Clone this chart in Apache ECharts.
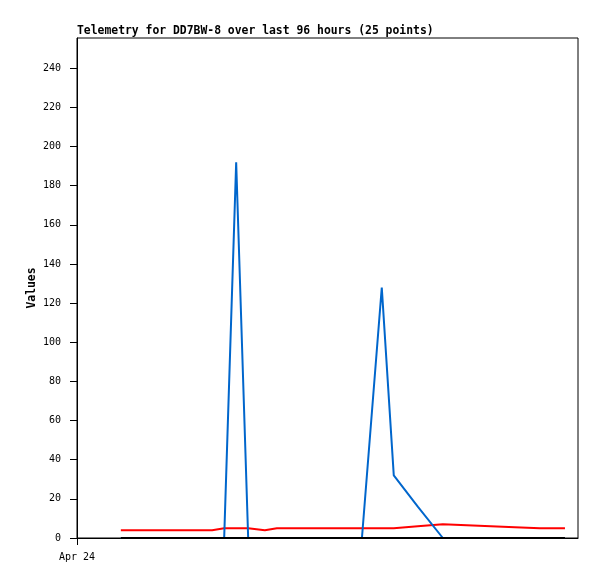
<!DOCTYPE html>
<html>
<head>
<meta charset="utf-8">
<script src="https://cdn.jsdelivr.net/npm/echarts@6/dist/echarts.min.js"></script>
<style>html,body{margin:0;padding:0;background:#fff}#c{width:597px;height:579px}</style>
</head>
<body>
<div id="c"></div>
<script>
const titleText = 'Telemetry for DD7BW-8 over last 96 hours (25 points)';
const yTicks = [0, 20, 40, 60, 80, 100, 120, 140, 160, 180, 200, 220, 240];
const xLabel = 'Apr 24';
// hours since start of window
const hours = [8.4, 11.5, 14.6, 17.6, 20.7, 22.8, 25.9, 28.2, 30.5, 32.8, 36.0, 38.3, 42.4, 46.4, 50.4, 54.6, 58.4, 60.7, 65.3, 70.1, 74.7, 79.3, 83.9, 88.7, 93.5];
const redVals = [4, 4, 4, 4, 4, 4, 4, 5, 5, 5, 4, 5, 5, 5, 5, 5, 5, 5, 6, 7, 6.5, 6, 5.5, 5, 5];
const blueVals = [0, 0, 0, 0, 0, 0, 0, 0, 192, 0, 0, 0, 0, 0, 0, 0, 128, 32, 16, 0, 0, 0, 0, 0, 0];
const blackVals = [0, 0, 0, 0, 0, 0, 0, 0, 0, 0, 0, 0, 0, 0, 0, 0, 0, 0, 0, 0, 0, 0, 0, 0, 0];

const pair = vals => hours.map((h, i) => [h, vals[i]]);
const chart = echarts.init(document.getElementById('c'));
const mono = 'DejaVu Sans Mono, Liberation Mono, monospace';
chart.setOption({
  animation: false,
  title: {
    text: titleText, left: 72, top: 21,
    textStyle: {fontFamily: mono, fontSize: 11.4, fontWeight: 'bold', color: '#000'}
  },
  grid: {left: 77, right: 19, top: 38, bottom: 41, show: true, borderColor: '#000', borderWidth: 1},
  xAxis: {
    type: 'value', min: 0, max: 96,
    axisLine: {show: true, lineStyle: {color: '#000', width: 1}},
    axisTick: {show: true, length: 7, lineStyle: {color: '#000'}, customValues: [0]},
    axisLabel: {customValues: [0], formatter: () => xLabel, margin: 14, color: '#000', fontFamily: mono, fontSize: 10},
    splitLine: {show: false}
  },
  yAxis: {
    type: 'value', min: 0, max: 255.5,
    name: 'Values', nameLocation: 'middle', nameGap: 39, nameMoveOverlap: false,
    nameTextStyle: {fontFamily: mono, fontSize: 11.4, fontWeight: 'bold', color: '#000'},
    axisLine: {show: true, lineStyle: {color: '#000', width: 1}},
    axisTick: {show: true, length: 7, lineStyle: {color: '#000'}, customValues: yTicks},
    axisLabel: {customValues: yTicks, margin: 16, color: '#000', fontFamily: mono, fontSize: 10},
    splitLine: {show: false}
  },
  series: [
    {type: 'line', data: pair(redVals), symbol: 'none', lineStyle: {color: '#ff0000', width: 2}, z: 2},
    {type: 'line', data: pair(blueVals), symbol: 'none', lineStyle: {color: '#0066cc', width: 2}, z: 3},
    {type: 'line', data: pair(blackVals), symbol: 'none', lineStyle: {color: '#000000', width: 2}, z: 4}
  ]
});
</script>
</body>
</html>
